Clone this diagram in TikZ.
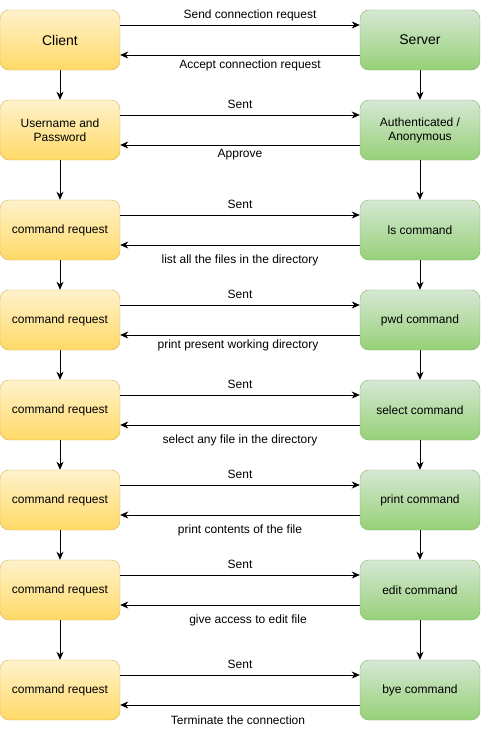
\documentclass[tikz,border=0pt]{standalone}
\usepackage{fontspec}
\setmainfont{Liberation Sans}
\usetikzlibrary{arrows.meta}

\definecolor{clienttop}{HTML}{FFF2CC}
\definecolor{clientbot}{HTML}{FFD966}
\definecolor{clientline}{HTML}{D6B656}
\definecolor{servertop}{HTML}{D5E8D4}
\definecolor{serverbot}{HTML}{97D077}
\definecolor{serverline}{HTML}{82B366}

\begin{document}
\begin{tikzpicture}[x=1pt, y=-1pt,
    box/.style = {rounded corners=9pt, minimum width=120pt, minimum height=60pt,
                  align=center, inner sep=2pt, font=\fontsize{12}{14}\selectfont},
    client/.style = {box, draw=clientline, top color=clienttop, bottom color=clientbot},
    server/.style = {box, draw=serverline, top color=servertop, bottom color=serverbot},
    msg/.style = {line width=0.9pt, -{Stealth[length=8pt, width=7pt, inset=2.5pt]}},
    lbl/.style = {font=\fontsize{12}{14}\selectfont, inner sep=0pt}]

    \useasboundingbox (0,0) rectangle (481,731);

    % client side
    \node[client, font=\fontsize{14}{16}\selectfont] (c1) at (60,40) {Client};
    \node[client] (c2) at (60,130) {Username and\\Password};
    \node[client] (c3) at (60,230) {command request};
    \node[client] (c4) at (60,320) {command request};
    \node[client] (c5) at (60,410) {command request};
    \node[client] (c6) at (60,500) {command request};
    \node[client] (c7) at (60,590) {command request};
    \node[client] (c8) at (60,690) {command request};

    % server side
    \node[server, font=\fontsize{14}{16}\selectfont] (s1) at (420,40) {Server};
    \node[server] (s2) at (420,130) {Authenticated /\\Anonymous};
    \node[server] (s3) at (420,230) {ls command};
    \node[server] (s4) at (420,320) {pwd command};
    \node[server] (s5) at (420,410) {select command};
    \node[server] (s6) at (420,500) {print command};
    \node[server] (s7) at (420,590) {edit command};
    \node[server] (s8) at (420,690) {bye command};

    % requests and replies
    \draw[msg] ([yshift=15pt]c1.east) -- ([yshift=15pt]s1.west);
    \draw[msg] ([yshift=-15pt]s1.west) -- ([yshift=-15pt]c1.east);
    \node[lbl] (f1) at (250,15) {Send connection request};
    \node[lbl] (b1) at (250,65) {Accept connection request};

    \draw[msg] ([yshift=15pt]c2.east) -- ([yshift=15pt]s2.west);
    \draw[msg] ([yshift=-15pt]s2.west) -- ([yshift=-15pt]c2.east);
    \node[lbl] (f2) at (240,104) {Sent};
    \node[lbl] (b2) at (240,155) {Approve};

    \draw[msg] ([yshift=15pt]c3.east) -- ([yshift=15pt]s3.west);
    \draw[msg] ([yshift=-15pt]s3.west) -- ([yshift=-15pt]c3.east);
    \node[lbl] (f3) at (240,204) {Sent};
    \node[lbl] (b3) at (240,260) {list all the files in the directory};

    \draw[msg] ([yshift=15pt]c4.east) -- ([yshift=15pt]s4.west);
    \draw[msg] ([yshift=-15pt]s4.west) -- ([yshift=-15pt]c4.east);
    \node[lbl] (f4) at (240,294) {Sent};
    \node[lbl] (b4) at (238,345) {print present working directory};

    \draw[msg] ([yshift=15pt]c5.east) -- ([yshift=15pt]s5.west);
    \draw[msg] ([yshift=-15pt]s5.west) -- ([yshift=-15pt]c5.east);
    \node[lbl] (f5) at (240,384) {Sent};
    \node[lbl] (b5) at (240,440) {select any file in the directory};

    \draw[msg] ([yshift=15pt]c6.east) -- ([yshift=15pt]s6.west);
    \draw[msg] ([yshift=-15pt]s6.west) -- ([yshift=-15pt]c6.east);
    \node[lbl] (f6) at (240,474) {Sent};
    \node[lbl] (b6) at (240,530) {print contents of the file};

    \draw[msg] ([yshift=15pt]c7.east) -- ([yshift=15pt]s7.west);
    \draw[msg] ([yshift=-15pt]s7.west) -- ([yshift=-15pt]c7.east);
    \node[lbl] (f7) at (240,564) {Sent};
    \node[lbl] (b7) at (248,620) {give access to edit file};

    \draw[msg] ([yshift=15pt]c8.east) -- ([yshift=15pt]s8.west);
    \draw[msg] ([yshift=-15pt]s8.west) -- ([yshift=-15pt]c8.east);
    \node[lbl] (f8) at (240,664) {Sent};
    \node[lbl] (b8) at (238,720) {Terminate the connection};

    % downward flow
    \draw[msg] (c1) -- (c2);
    \draw[msg] (c2) -- (c3);
    \draw[msg] (c3) -- (c4);
    \draw[msg] (c4) -- (c5);
    \draw[msg] (c5) -- (c6);
    \draw[msg] (c6) -- (c7);
    \draw[msg] (c7) -- (c8);
    \draw[msg] (s1) -- (s2);
    \draw[msg] (s2) -- (s3);
    \draw[msg] (s3) -- (s4);
    \draw[msg] (s4) -- (s5);
    \draw[msg] (s5) -- (s6);
    \draw[msg] (s6) -- (s7);
    \draw[msg] (s7) -- (s8);
\end{tikzpicture}
\end{document}
